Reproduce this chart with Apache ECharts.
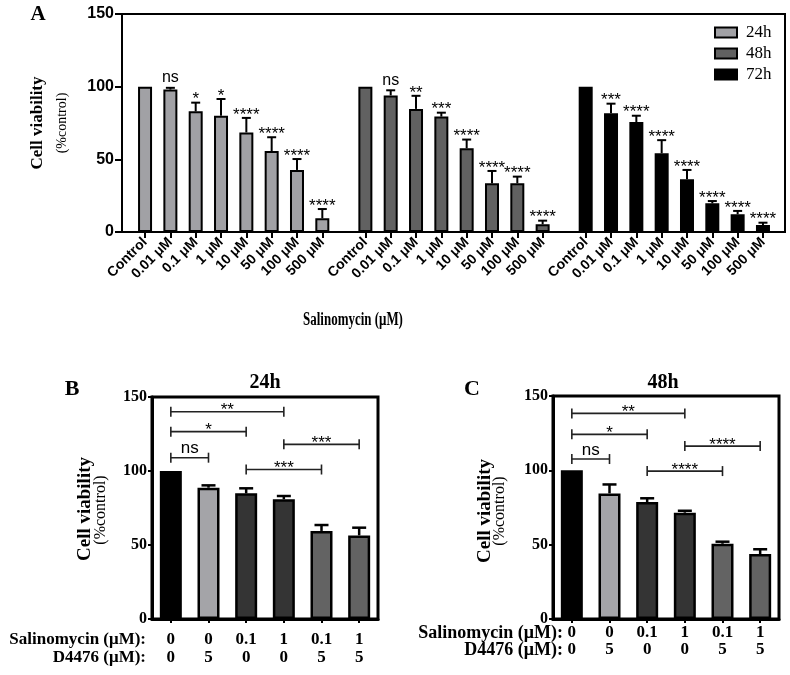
<!DOCTYPE html>
<html>
<head>
<meta charset="utf-8">
<script src="https://cdn.jsdelivr.net/npm/echarts@6/dist/echarts.min.js"></script>
<style>
html, body { margin: 0; padding: 0; background: #fff; }
#chart { width: 790px; height: 675px; }
</style>
</head>
<body>
<div id="chart"></div>
<script>
// ---- panel A data ----
const doseLabels = ['Control', '0.01 μM', '0.1 μM', '1 μM', '10 μM', '50 μM', '100 μM', '500 μM']
const timeNames = ['24h', '48h', '72h']
const v24 = [100, 98, 83, 80, 68.5, 55.7, 42.7, 9.4]
const e24 = [0, 1.2, 6, 11.5, 10, 9.5, 7.5, 6.4]
const s24 = ['', 'ns', '*', '*', '****', '****', '****', '****']
const v48 = [100, 94, 84.7, 79.4, 57.6, 33.5, 33.5, 5.3]
const e48 = [0, 3.5, 9, 2.7, 6, 8.5, 4.6, 2.5]
const s48 = ['', 'ns', '**', '***', '****', '****', '****', '****']
const v72 = [100, 81.7, 75.7, 54.2, 36.3, 19.7, 12.2, 4.8]
const e72 = [0, 6.6, 4.3, 9, 6.4, 1.6, 2.3, 1.6]
const s72 = ['', '***', '****', '****', '****', '****', '****', '****']

// ---- panels B / C data ----
const salinomycin = ['0', '0', '0.1', '1', '0.1', '1']
const d4476 = ['0', '5', '0', '0', '5', '5']
const vB = [100, 88.7, 84.9, 80.9, 59.5, 56.5]
const eB = [0, 1.6, 3.4, 2.2, 4, 5.2]
const vC = [100, 84.5, 78.7, 71.5, 50.6, 43.7]
const eC = [0, 6, 2.5, 1.3, 1.4, 3.2]
// [from bar, to bar, height, label]
const bracketsB = [[0, 3, 140, '**'], [0, 2, 126.6, '*'], [0, 1, 109, 'ns'], [3, 5, 118, '***'], [2, 4, 101, '***']]
const bracketsC = [[0, 3, 138.3, '**'], [0, 2, 124.2, '*'], [0, 1, 107.6, 'ns'], [3, 5, 116.3, '****'], [2, 4, 99.5, '****']]

const colorsA = ['#a1a1a5', '#616161', '#000000']
const colorsBC = ['#000000', '#a4a4a8', '#343434', '#343434', '#636363', '#636363']

const chart = echarts.init(document.getElementById('chart'))

// 组间距：每组8根柱，组与组之间多留一点空
const stride = 8.7
const posA = []
const labelByPos = {}
timeNames.forEach((t, g) => {
  doseLabels.forEach((d, i) => {
    const p = +(g * stride + i).toFixed(2)
    posA.push(p)
    labelByPos[p.toFixed(2)] = d
  })
})

const seriesVals = [v24, v48, v72]
const seriesErrs = [e24, e48, e72]
const seriesSig = [s24, s48, s72]

const ptsA = []
seriesVals.forEach((vals, g) => {
  vals.forEach((v, i) => {
    ptsA.push({ x: +(g * stride + i).toFixed(2), v: v, e: seriesErrs[g][i], s: seriesSig[g][i] })
  })
})
const ptsB = vB.map((v, i) => ({ x: i, v: v, e: eB[i], s: '' }))
const ptsC = vC.map((v, i) => ({ x: i, v: v, e: eC[i], s: '' }))

function errorSeries(xi, pts, cap, lw) {
  return {
    type: 'custom',
    xAxisIndex: xi,
    yAxisIndex: xi,
    z: 5,
    silent: true,
    data: pts.map(p => [p.x, p.v + p.e]),
    renderItem(params, api) {
      const p = pts[params.dataIndex]
      const base = api.coord([p.x, p.v])
      const top = api.coord([p.x, p.v + p.e])
      const ch = []
      if (p.e > 0) {
        ch.push({ type: 'line', shape: { x1: base[0], y1: base[1], x2: top[0], y2: top[1] }, style: { stroke: '#000', lineWidth: lw } })
        ch.push({ type: 'line', shape: { x1: top[0] - cap, y1: top[1], x2: top[0] + cap, y2: top[1] }, style: { stroke: '#000', lineWidth: lw } })
      }
      if (p.s) {
        const ns = p.s === 'ns'
        ch.push({
          type: 'text', x: top[0], y: top[1] - (ns ? 10 : 3),
          style: { text: p.s, fill: '#000', fontFamily: 'Liberation Sans', fontSize: ns ? 16 : 17, align: 'center', verticalAlign: 'middle' }
        })
      }
      return { type: 'group', children: ch }
    }
  }
}

function bracketSeries(xi, br) {
  return {
    type: 'custom',
    xAxisIndex: xi,
    yAxisIndex: xi,
    z: 6,
    silent: true,
    data: br.map(b => [b[0], b[2]]),
    renderItem(params, api) {
      const b = br[params.dataIndex]
      const p0 = api.coord([b[0], b[2]])
      const p1 = api.coord([b[1], b[2]])
      const st = { stroke: '#222', lineWidth: 1.6 }
      const ns = b[3] === 'ns'
      return {
        type: 'group',
        children: [
          { type: 'line', shape: { x1: p0[0], y1: p0[1], x2: p1[0], y2: p1[1] }, style: st },
          { type: 'line', shape: { x1: p0[0], y1: p0[1] - 5, x2: p0[0], y2: p0[1] + 5 }, style: st },
          { type: 'line', shape: { x1: p1[0], y1: p1[1] - 5, x2: p1[0], y2: p1[1] + 5 }, style: st },
          {
            type: 'text', x: (p0[0] + p1[0]) / 2, y: p0[1] - (ns ? 9 : 1),
            style: { text: b[3], fill: '#000', fontFamily: 'Liberation Sans', fontSize: 17, align: 'center', verticalAlign: 'middle' }
          }
        ]
      }
    }
  }
}

function yAxisBC(gi) {
  return {
    gridIndex: gi, type: 'value', min: 0, max: 150, interval: 50,
    axisLine: { show: true, onZero: false, lineStyle: { color: '#000', width: 3 } },
    axisTick: { show: true, length: 4, lineStyle: { color: '#000', width: 2 } },
    axisLabel: { margin: 5, color: '#000', fontFamily: 'Liberation Serif', fontWeight: 'bold', fontSize: 16 },
    splitLine: { show: false }
  }
}

function xAxisBC(gi, margin, lh, fs) {
  return {
    gridIndex: gi, type: 'category',
    data: salinomycin.map((s, i) => s + '\n' + d4476[i]),
    axisLine: { show: true, onZero: false, lineStyle: { color: '#000', width: 3 } },
    axisTick: { show: true, alignWithLabel: true, length: 4, lineStyle: { color: '#000', width: 2 } },
    axisLabel: { margin: margin, lineHeight: lh, color: '#000', fontFamily: 'Liberation Serif', fontWeight: 'bold', fontSize: fs, interval: 0 }
  }
}

const serif = 'Liberation Serif'
const txt = (text, x, y, size, opts) => {
  const o = opts || {}
  const el = {
    type: 'text', x: x, y: y,
    style: Object.assign({ text: text, fill: '#000', fontFamily: serif, fontSize: size, fontWeight: 'bold', align: 'center', verticalAlign: 'middle' }, o.style || {})
  }
  if (o.rotation) el.rotation = o.rotation
  if (o.scaleX) el.scaleX = o.scaleX
  return el
}

const option = {
  backgroundColor: '#fff',
  animation: false,
  grid: [
    { left: 122, top: 14, width: 663, height: 218, show: true, borderColor: '#000', borderWidth: 2, outerBoundsMode: 'none' },
    { left: 152, top: 397, width: 226, height: 222, show: true, borderColor: '#000', borderWidth: 3, outerBoundsMode: 'none' },
    { left: 553, top: 396, width: 226, height: 223, show: true, borderColor: '#000', borderWidth: 3, outerBoundsMode: 'none' }
  ],
  legend: {
    data: timeNames,
    orient: 'vertical',
    left: 709, top: 19,
    itemWidth: 22, itemHeight: 10, itemGap: 4,
    selectedMode: false,
    icon: 'rect',
    textStyle: { fontFamily: serif, fontSize: 17, lineHeight: 17, color: '#000', padding: [0, 0, 0, 4] }
  },
  xAxis: [
    {
      gridIndex: 0, type: 'value', min: -0.91, max: 25.27,
      axisLine: { show: true, onZero: false, lineStyle: { color: '#000', width: 2 } },
      axisTick: { show: true, customValues: posA, length: 6, lineStyle: { color: '#000', width: 2 } },
      axisLabel: {
        customValues: posA, rotate: 45, margin: 8,
        color: '#000', fontFamily: 'Liberation Sans', fontWeight: 'bold', fontSize: 14,
        formatter: v => labelByPos[(+v).toFixed(2)] || ''
      },
      splitLine: { show: false }
    },
    xAxisBC(1, 12, 18, 17),
    xAxisBC(2, 5, 17, 17)
  ],
  yAxis: [
    {
      gridIndex: 0, type: 'value', min: 0, max: 150, interval: 50,
      axisLine: { show: true, onZero: false, lineStyle: { color: '#000', width: 2 } },
      axisTick: { show: true, length: 7, lineStyle: { color: '#000', width: 2 } },
      axisLabel: { margin: 8, color: '#000', fontFamily: 'Liberation Sans', fontWeight: 'bold', fontSize: 16 },
      splitLine: { show: false }
    },
    yAxisBC(1),
    yAxisBC(2)
  ],
  series: [
    ...timeNames.map((t, g) => ({
      name: t,
      type: 'bar',
      xAxisIndex: 0, yAxisIndex: 0,
      barWidth: 14,
      barGap: '-100%',
      itemStyle: { color: colorsA[g], borderColor: '#000', borderWidth: 2 },
      data: seriesVals[g].map((v, i) => [+(g * stride + i).toFixed(2), v])
    })),
    errorSeries(0, ptsA, 4.5, 2),
    {
      type: 'bar', xAxisIndex: 1, yAxisIndex: 1, barWidth: 22,
      data: vB.map((v, i) => ({ value: v, itemStyle: { color: colorsBC[i], borderColor: '#000', borderWidth: 2.5 } }))
    },
    errorSeries(1, ptsB, 7, 2.5),
    bracketSeries(1, bracketsB),
    {
      type: 'bar', xAxisIndex: 2, yAxisIndex: 2, barWidth: 22,
      data: vC.map((v, i) => ({ value: v, itemStyle: { color: colorsBC[i], borderColor: '#000', borderWidth: 2.5 } }))
    },
    errorSeries(2, ptsC, 7, 2.5),
    bracketSeries(2, bracketsC)
  ],
  graphic: [
    txt('A', 38, 15, 21),
    txt('B', 72, 389, 22),
    txt('C', 472, 389, 22),
    txt('24h', 265, 383, 20),
    txt('48h', 663, 383, 20),
    txt('Cell viability', 38, 123, 17, { rotation: Math.PI / 2 }),
    txt('(%control)', 62, 123, 14, { rotation: Math.PI / 2, style: { fontWeight: 'normal' } }),
    txt('Cell viability', 85, 509, 19, { rotation: Math.PI / 2 }),
    txt('(%control)', 101, 510, 16, { rotation: Math.PI / 2, style: { fontWeight: 'normal' } }),
    txt('Cell viability', 485, 511, 19, { rotation: Math.PI / 2 }),
    txt('(%control)', 500, 511, 16, { rotation: Math.PI / 2, style: { fontWeight: 'normal' } }),
    txt('Salinomycin (μM)', 353, 320, 18, { scaleX: 0.72 }),
    txt('Salinomycin (μM):', 146, 640, 17, { style: { align: 'right' } }),
    txt('D4476 (μM):', 146, 658, 17, { style: { align: 'right' } }),
    txt('Salinomycin (μM):', 563, 633, 18, { style: { align: 'right' } }),
    txt('D4476 (μM):', 563, 650, 18, { style: { align: 'right' } })
  ]
}

chart.setOption(option)
window.addEventListener('resize', () => chart.resize())
</script>
</body>
</html>
